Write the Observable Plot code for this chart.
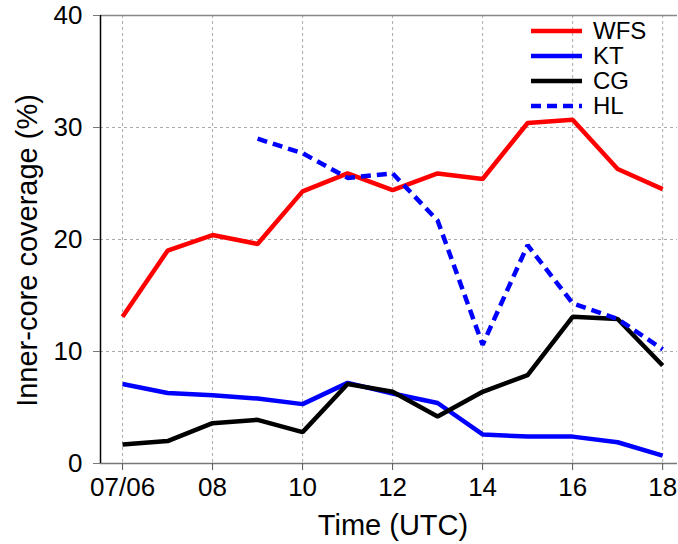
<!DOCTYPE html>
<html>
<head>
<meta charset="utf-8">
<script src="https://cdn.jsdelivr.net/npm/d3@7"></script>
<script src="https://cdn.jsdelivr.net/npm/@observablehq/plot@0.6"></script>
<style>
  html, body { margin: 0; padding: 0; background: #fff; }
  #chart { width: 678px; height: 544px; }
</style>
</head>
<body>
<div id="chart"></div>
<script>
const hours = [6, 7, 8, 9, 10, 11, 12, 13, 14, 15, 16, 17, 18];
const wfs = [13.1, 19.0, 20.4, 19.6, 24.3, 25.9, 24.4, 25.9, 25.4, 30.4, 30.7, 26.3, 24.5];
const kt  = [7.1, 6.3, 6.1, 5.8, 5.3, 7.2, 6.25, 5.4, 2.6, 2.4, 2.4, 1.9, 0.7];
const cg  = [1.7, 2.0, 3.6, 3.9, 2.8, 7.1, 6.4, 4.2, 6.4, 7.9, 13.1, 12.9, 8.75];
const hlHours = [9, 10, 11, 12, 13, 14, 15, 16, 17, 18];
const hl  = [29.0, 27.7, 25.5, 25.9, 21.7, 10.6, 19.5, 14.3, 12.9, 10.2];

const xTicks = [6, 8, 10, 12, 14, 16, 18];
const xTickLabels = ["07/06", "08", "10", "12", "14", "16", "18"];
const yTicks = [0, 10, 20, 30, 40];

const seriesNames = ["WFS", "KT", "CG", "HL"];
const seriesColors = ["#ff0000", "#0000ff", "#000000", "#0000ff"];
const seriesDash = [null, null, null, "10,6"];

const toRows = (hs, vs) => hs.map((h, i) => ({h, v: vs[i]}));
const rows = [toRows(hours, wfs), toRows(hours, kt), toRows(hours, cg), toRows(hlHours, hl)];

const XMIN = 5.51, XMAX = 18.33;
const font = "'Liberation Sans', Arial, Helvetica, sans-serif";
const lineStyle = {strokeWidth: 4.5, strokeLinejoin: "miter", strokeLinecap: "butt"};

const plot = Plot.plot({
  width: 678,
  height: 544,
  marginLeft: 100,
  marginRight: 1,
  marginTop: 15,
  marginBottom: 81,
  style: {fontFamily: font, color: "#000", background: "#fff"},
  x: {domain: [XMIN, XMAX]},
  y: {domain: [0, 40]},
  marks: [
    Plot.gridX(xTicks, {stroke: "#aaa", strokeOpacity: 1, strokeDasharray: "3,3"}),
    Plot.gridY([10, 20, 30], {stroke: "#aaa", strokeOpacity: 1, strokeDasharray: "3,3"}),
    Plot.ruleY([40], {stroke: "#888", strokeWidth: 1.5}),
    Plot.ruleY([0], {stroke: "#777", strokeWidth: 1.5}),
    Plot.ruleX([XMIN], {stroke: "#000", strokeWidth: 1.5}),
    Plot.axisY({ticks: yTicks, tickSize: 7, tickPadding: 11, fontSize: 26, stroke: "#777", label: null}),
    Plot.axisX({ticks: xTicks, tickFormat: (d) => xTickLabels[xTicks.indexOf(d)], tickSize: 7, tickPadding: 7, fontSize: 26, stroke: "#555", label: null}),
    ...rows.map((r, i) => Plot.line(r, {x: "h", y: "v", stroke: seriesColors[i], strokeDasharray: seriesDash[i], ...lineStyle})),
    Plot.text(["Time (UTC)"], {frameAnchor: "bottom", dy: 62, dx: 4, fontSize: 29, lineAnchor: "middle", textAnchor: "middle"}),
    Plot.text(["Inner-core coverage (%)"], {frameAnchor: "left", dx: -73, dy: 11, rotate: -90, fontSize: 29, lineAnchor: "middle", textAnchor: "middle"})
  ]
});
document.getElementById("chart").appendChild(plot);

// Legend (top-right inside the frame)
const svg = d3.select(plot);
const lg = svg.append("g").attr("font-family", font).attr("font-size", 24).attr("text-anchor", "start");
seriesNames.forEach((name, i) => {
  const y = 31 + i * 25;
  lg.append("line")
    .attr("x1", 531).attr("x2", 582).attr("y1", y).attr("y2", y)
    .attr("stroke", seriesColors[i]).attr("stroke-width", 4.5)
    .attr("stroke-dasharray", seriesDash[i]);
  lg.append("text").attr("x", 593).attr("y", y).attr("dy", "0.35em").attr("text-anchor", "start").attr("fill", "#000").text(name);
});
</script>
</body>
</html>
